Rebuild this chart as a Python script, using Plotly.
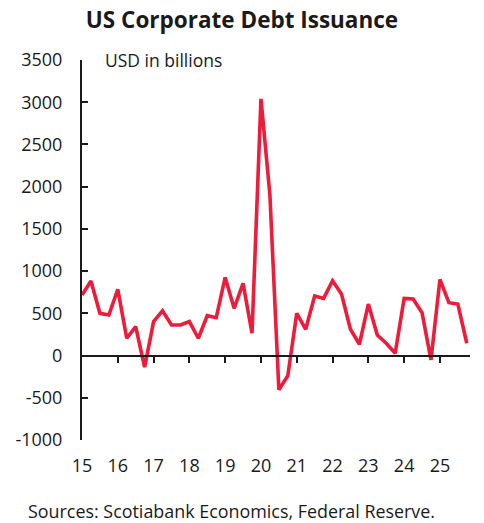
import plotly.graph_objects as go

# Quarterly US corporate debt issuance, USD billions (2015Q1 - 2025Q4)
years = [2015, 2016, 2017, 2018, 2019, 2020, 2021, 2022, 2023, 2024, 2025]
quarters = [1, 2, 3, 4]
issuance = [
    716, 882, 500, 480,      # 2015
    783, 205, 343, -138,     # 2016
    402, 531, 362, 362,      # 2017
    402, 205, 472, 449,      # 2018
    925, 559, 854, 264,      # 2019
    3039, 1900, -405, -240,  # 2020
    500, 311, 705, 677,      # 2021
    886, 728, 311, 134,      # 2022
    610, 244, 146, 28,       # 2023
    677, 669, 508, -51,      # 2024
    902, 626, 610, 146,      # 2025
]
year_ticks = [2015, 2016, 2017, 2018, 2019, 2020, 2021, 2022, 2023, 2024, 2025]
year_labels = ["15", "16", "17", "18", "19", "20", "21", "22", "23", "24", "25"]
y_ticks = [-1000, -500, 0, 500, 1000, 1500, 2000, 2500, 3000, 3500]
y_labels = ["-1000", "-500", "0", "500", "1000", "1500", "2000", "2500", "3000", "3500"]

x_vals = [y + (q - 1) / 4 for y in years for q in quarters]

FONT = "Open Sans"
INK = "#1a1a1a"
RED = "#ec1c3a"
Y_MIN, Y_MAX = -1000, 3500
X_MIN, X_MAX = 2015, 2025.84

fig = go.Figure()
fig.add_trace(go.Scatter(
    x=x_vals, y=issuance, mode="lines",
    line=dict(color=RED, width=3.6),
    showlegend=False, hoverinfo="x+y",
))
# invisible trace so the zero-line axis is drawn
fig.add_trace(go.Scatter(
    x=[X_MIN], y=[0], xaxis="x2", mode="markers",
    marker=dict(opacity=0), showlegend=False, hoverinfo="skip",
))

fig.update_layout(
    width=484, height=523,
    margin=dict(l=82, r=14, t=60, b=83),
    paper_bgcolor="white", plot_bgcolor="white",
    font=dict(family=FONT, color=INK, size=18),
    title=dict(
        text="<b>US Corporate Debt Issuance</b>",
        x=0.5, xanchor="center", y=0.962, yanchor="middle",
        font=dict(family=FONT, size=22.5, color=INK),
    ),
    xaxis=dict(
        range=[X_MIN, X_MAX], tickvals=year_ticks, ticktext=year_labels,
        showline=False, showgrid=False, zeroline=False, ticks="",
        ticklabelstandoff=13, tickfont=dict(size=18, color=INK),
    ),
    xaxis2=dict(
        overlaying="x", anchor="free",
        position=(0 - Y_MIN) / (Y_MAX - Y_MIN), side="bottom",
        range=[X_MIN, X_MAX], tickvals=year_ticks[1:],
        showticklabels=False, showline=True, linecolor=INK, linewidth=2,
        ticks="outside", ticklen=6, tickwidth=2, tickcolor=INK,
        showgrid=False, zeroline=False,
    ),
    yaxis=dict(
        range=[Y_MIN, Y_MAX], tickvals=y_ticks, ticktext=y_labels,
        showline=True, linecolor=INK, linewidth=2,
        ticks="inside", ticklen=6, tickwidth=2, tickcolor=INK,
        showgrid=False, zeroline=False,
        ticklabelstandoff=14, tickfont=dict(size=18, color=INK),
    ),
    annotations=[
        dict(text="USD in billions", xref="paper", yref="paper",
             x=0.054, y=1.0, xanchor="left", yanchor="middle",
             showarrow=False, font=dict(size=17.5, color=INK)),
        dict(text="Sources: Scotiabank Economics, Federal Reserve.",
             xref="paper", yref="paper", x=-0.145, y=-0.188,
             xanchor="left", yanchor="middle",
             showarrow=False, font=dict(size=17.9, color=INK)),
    ],
)

fig.write_html("out.html")
